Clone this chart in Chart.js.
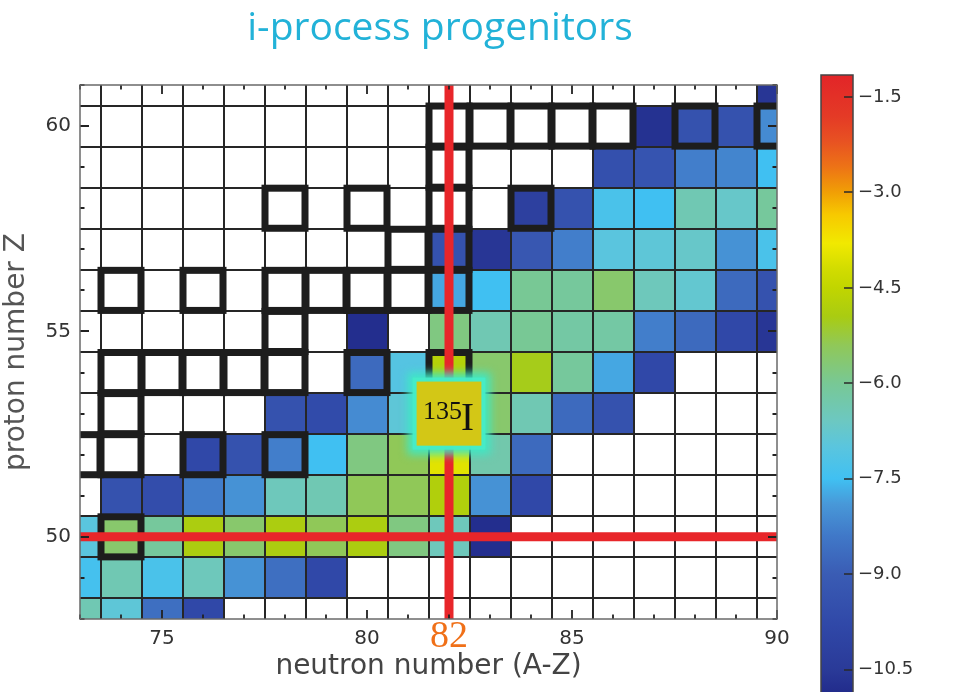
<!DOCTYPE html>
<html>
<head>
<meta charset="utf-8">
<title>i-process progenitors</title>
<script src="https://cdn.jsdelivr.net/npm/chart.js@4.4.1/dist/chart.umd.min.js"></script>
<style>
  html, body { margin: 0; padding: 0; background: #ffffff; }
  #figure { position: relative; width: 980px; height: 692px; overflow: hidden; }
  #nuclides { position: absolute; left: 0; top: 0; }
  #colorbar { position: absolute; left: 780px; top: 0; }
</style>
</head>
<body>
<div id="figure">
  <canvas id="nuclides" width="800" height="692"></canvas>
  <canvas id="colorbar" width="200" height="692"></canvas>
</div>
<script>
// ---- chart of nuclides: columns are neutron numbers, rows proton numbers ----
const neutronNumbers = [73, 74, 75, 76, 77, 78, 79, 80, 81, 82, 83, 84, 85, 86, 87, 88, 89, 90];
const protonNumbers  = [48, 49, 50, 51, 52, 53, 54, 55, 56, 57, 58, 59, 60, 61];

// log10 of the mass fraction X, one entry per neutron number above (null = not produced)
const logX_Z48 = [-6.4, -6.9, -8.6, -9.8, null, null, null, null, null, null, null, null, null, null, null, null, null, null];
const logX_Z49 = [-7.4, -6.4, -7.3, -6.5, -8.0, -8.6, -9.8, null, null, null, null, null, null, null, null, null, null, null];
const logX_Z50 = [-7.0, -5.6, -6.1, -4.9, -5.6, -4.9, -5.4, -4.9, -5.8, -6.5, -10.8, null, null, null, null, null, null, null];
const logX_Z51 = [null, -9.4, -9.6, -8.3, -8.0, -6.5, -6.4, -5.4, -5.4, -4.8, -8.0, -9.8, null, null, null, null, null, null];
const logX_Z52 = [null, null, null, -9.8, -9.4, -8.3, -7.5, -5.8, -5.4, -4.0, -6.3, -8.7, null, null, null, null, null, null];
const logX_Z53 = [null, null, null, null, null, -9.4, -9.7, -8.1, -6.9, -3.9, -5.6, -6.4, -8.7, -9.4, null, null, null, null];
const logX_Z54 = [null, null, null, null, null, null, null, -8.7, -7.1, -4.7, -5.6, -5.0, -6.1, -7.75, -9.8, null, null, null];
const logX_Z55 = [null, null, null, null, null, null, null, -10.8, null, -5.8, -6.4, -6.0, -6.2, -6.2, -8.3, -8.7, -9.8, -10.6];
const logX_Z56 = [null, null, null, null, null, null, null, null, null, -7.75, -7.5, -6.0, -6.1, -5.6, -6.5, -6.8, -8.7, -9.4];
const logX_Z57 = [null, null, null, null, null, null, null, null, null, -9.4, -10.6, -9.2, -8.3, -7.0, -6.9, -6.7, -8.0, -7.3];
const logX_Z58 = [null, null, null, null, null, null, null, null, null, null, null, -10.2, -9.4, -7.3, -7.5, -6.4, -6.7, -6.1];
const logX_Z59 = [null, null, null, null, null, null, null, null, null, null, null, null, null, -9.5, -9.3, -8.3, -8.2, -7.5];
const logX_Z60 = [null, null, null, null, null, null, null, null, null, null, null, null, null, null, -10.7, -9.4, -9.4, -8.1];
const logX_Z61 = [null, null, null, null, null, null, null, null, null, null, null, null, null, null, null, null, null, -10.6];
const logXRows = [logX_Z48, logX_Z49, logX_Z50, logX_Z51, logX_Z52, logX_Z53, logX_Z54,
                  logX_Z55, logX_Z56, logX_Z57, logX_Z58, logX_Z59, logX_Z60, logX_Z61];

// stable isotopes (outlined): neutron numbers and the matching proton numbers
const stableN = [74,  73, 74, 76, 78,  74,  74, 75, 76, 77, 78, 80, 82,  78,  74, 76, 78, 79, 80, 81, 82,  81, 82,  78, 80, 82, 84,  82,  82, 83, 84, 85, 86, 88, 90];
const stableZ = [50,  52, 52, 52, 52,  53,  54, 54, 54, 54, 54, 54, 54,  55,  56, 56, 56, 56, 56, 56, 56,  57, 57,  58, 58, 58, 58,  59,  60, 60, 60, 60, 60, 60, 60];

// axis ticks and the colour scale
const xTickValues = [75, 80, 85, 90];
const yTickValues = [50, 55, 60];
const colorbarTicks = [-1.5, -3.0, -4.5, -6.0, -7.5, -9.0, -10.5];

// magic numbers highlighted with red lines, and the labelled progenitor
const magicN = 82;
const magicZ = 50;
const highlightedIsotope = { mass: 135, symbol: 'I', n: 82, z: 53 };

// ---- colour map: log10(X) -> colour ----
const colormapStops = [
  [-1.15, '#e22528'], [-1.8, '#e43a26'], [-2.2, '#e85222'], [-2.6, '#ed7316'],
  [-3.0, '#f19f05'], [-3.35, '#f7c900'], [-3.8, '#f1e900'], [-4.2, '#d2dc00'],
  [-4.5, '#c1d500'], [-4.95, '#a9cc12'], [-5.4, '#90c858'], [-6.0, '#78c895'],
  [-6.6, '#6cc8c2'], [-7.0, '#5ac5de'], [-7.5, '#40c0f2'], [-7.9, '#4898d8'],
  [-8.4, '#4078c8'], [-9.0, '#3a5cb4'], [-9.8, '#3048a8'], [-10.5, '#2a3a98'],
  [-10.85, '#222c8c']
];
const colorbarMax = -1.155;
const colorbarMin = -10.85;

function hexToRgb(h) {
  const n = parseInt(h.slice(1), 16);
  return [(n >> 16) & 255, (n >> 8) & 255, n & 255];
}
function colourFor(v) {
  const s = colormapStops;
  if (v >= s[0][0]) return s[0][1];
  for (let i = 1; i < s.length; i++) {
    if (v >= s[i][0]) {
      const t = (s[i - 1][0] - v) / (s[i - 1][0] - s[i][0]);
      const a = hexToRgb(s[i - 1][1]), b = hexToRgb(s[i][1]);
      const c = a.map((ch, k) => Math.round(ch + (b[k] - ch) * t));
      return 'rgb(' + c.join(',') + ')';
    }
  }
  return s[s.length - 1][1];
}

// ---- datasets built from the arrays above ----
const cellPoints = [];
protonNumbers.forEach((z, i) => {
  logXRows[i].forEach((v, j) => {
    if (v !== null) cellPoints.push({ x: neutronNumbers[j], y: z, v: v });
  });
});
const stablePoints = stableN.map((n, i) => ({ x: n, y: stableZ[i] }));

Chart.defaults.font.family = '"DejaVu Sans", sans-serif';
Chart.defaults.color = '#333333';

function cellBox(xs, ys, n, z, halfW, halfH) {
  const x0 = xs.getPixelForValue(n - halfW), x1 = xs.getPixelForValue(n + halfW);
  const y0 = ys.getPixelForValue(z + halfH), y1 = ys.getPixelForValue(z - halfH);
  return { x: x0, y: y0, w: x1 - x0, h: y1 - y0 };
}

const nuclidePlugin = {
  id: 'nuclidePlugin',
  beforeDatasetsDraw(chart) {
    const { ctx, chartArea: a, scales: { x: xs, y: ys } } = chart;
    ctx.save();
    ctx.beginPath();
    ctx.rect(a.left, a.top, a.right - a.left, a.bottom - a.top);
    ctx.clip();

    // coloured cells
    chart.data.datasets[0].data.forEach(p => {
      const b = cellBox(xs, ys, p.x, p.y, 0.5, 0.5);
      ctx.fillStyle = colourFor(p.v);
      ctx.fillRect(b.x, b.y, b.w, b.h);
    });

    // cell borders on every half-integer
    ctx.strokeStyle = '#262626';
    ctx.lineWidth = 2;
    ctx.beginPath();
    for (let n = Math.floor(xs.min) + 0.5; n < xs.max; n += 1) {
      const px = Math.round(xs.getPixelForValue(n));
      ctx.moveTo(px, a.top); ctx.lineTo(px, a.bottom);
    }
    for (let z = Math.floor(ys.min) + 0.5; z < ys.max; z += 1) {
      const py = Math.round(ys.getPixelForValue(z));
      ctx.moveTo(a.left, py); ctx.lineTo(a.right, py);
    }
    ctx.stroke();

    // stable isotopes: thick black outline
    ctx.strokeStyle = '#1d1d1d';
    ctx.lineWidth = 7;
    chart.data.datasets[1].data.forEach(p => {
      const b = cellBox(xs, ys, p.x, p.y, 0.5, 0.5);
      ctx.strokeRect(b.x + 0.5, b.y + 0.5, b.w - 1, b.h - 1);
    });

    // magic numbers N = 82 and Z = 50
    ctx.strokeStyle = '#e8262a';
    ctx.lineWidth = 9;
    ctx.beginPath();
    const mx = xs.getPixelForValue(magicN);
    ctx.moveTo(mx, a.top); ctx.lineTo(mx, a.bottom);
    const my = ys.getPixelForValue(magicZ);
    ctx.moveTo(a.left, my); ctx.lineTo(a.right, my);
    ctx.stroke();
    ctx.restore();
  },
  afterDatasetsDraw(chart) {
    const { ctx, chartArea: a, scales: { x: xs, y: ys } } = chart;
    ctx.save();

    // inward ticks on all four sides
    ctx.strokeStyle = '#222222';
    ctx.lineWidth = 1.8;
    ctx.beginPath();
    for (let n = Math.ceil(xs.min); n <= xs.max; n++) {
      const px = Math.round(xs.getPixelForValue(n));
      const len = (n % 5 === 0) ? 9 : 4.5;
      ctx.moveTo(px, a.bottom); ctx.lineTo(px, a.bottom - len);
      ctx.moveTo(px, a.top); ctx.lineTo(px, a.top + len);
    }
    for (let z = Math.ceil(ys.min); z <= ys.max; z++) {
      const py = Math.round(ys.getPixelForValue(z));
      const len = (z % 5 === 0) ? 9 : 4.5;
      ctx.moveTo(a.left, py); ctx.lineTo(a.left + len, py);
      ctx.moveTo(a.right, py); ctx.lineTo(a.right - len, py);
    }
    ctx.stroke();

    // plot frame
    ctx.strokeStyle = '#6a6a6a';
    ctx.lineWidth = 1.5;
    ctx.strokeRect(a.left, a.top, a.right - a.left, a.bottom - a.top);

    // labelled progenitor: glowing yellow box
    const iso = highlightedIsotope;
    const b = cellBox(xs, ys, iso.n, iso.z, 0.79, 0.78);
    ctx.save();
    ctx.filter = 'blur(4px)';
    ctx.fillStyle = 'rgba(62, 232, 196, 0.95)';
    ctx.fillRect(b.x - 9, b.y - 9, b.w + 18, b.h + 18);
    ctx.restore();
    ctx.fillStyle = 'rgba(70, 236, 200, 0.9)';
    ctx.fillRect(b.x - 4, b.y - 4, b.w + 8, b.h + 8);
    ctx.fillStyle = '#d3c716';
    ctx.fillRect(b.x, b.y, b.w, b.h);
    const cx = b.x + b.w / 2, cy = b.y + b.h / 2;
    ctx.fillStyle = '#111111';
    ctx.textAlign = 'left';
    ctx.textBaseline = 'alphabetic';
    ctx.font = '26px "Liberation Serif", serif';
    ctx.fillText(String(iso.mass), cx - 26, cy + 5);
    ctx.font = '39px "Liberation Serif", serif';
    ctx.fillText(iso.symbol, cx + 12, cy + 16);

    // magic neutron number under the axis
    ctx.fillStyle = '#f07018';
    ctx.textAlign = 'center';
    ctx.font = '38px "Liberation Serif", serif';
    ctx.fillText(String(magicN), xs.getPixelForValue(magicN), a.bottom + 28);

    // figure title
    ctx.fillStyle = '#22b2d8';
    ctx.font = '39px "Open Sans", sans-serif';
    ctx.fillText('i-process progenitors', 440, 40);
    ctx.restore();
  }
};

new Chart(document.getElementById('nuclides'), {
  type: 'scatter',
  data: {
    datasets: [
      { label: 'log10(X)', data: cellPoints, pointRadius: 0, showLine: false },
      { label: 'stable', data: stablePoints, pointRadius: 0, showLine: false }
    ]
  },
  options: {
    responsive: false,
    animation: false,
    events: [],
    layout: { padding: { top: 85, right: 23, left: 0, bottom: 0 } },
    plugins: { legend: { display: false }, tooltip: { enabled: false }, title: { display: false } },
    scales: {
      x: {
        type: 'linear', min: 73, max: 90,
        afterBuildTicks: s => { s.ticks = xTickValues.map(v => ({ value: v })); },
        afterFit: s => { s.height = 73; s.paddingLeft = 0; s.paddingRight = 0; },
        grid: { display: false, drawTicks: false },
        border: { display: false },
        ticks: { autoSkip: false, maxRotation: 0, padding: 8, color: '#333', font: { size: 20 } },
        title: { display: true, text: 'neutron number (A-Z)', color: '#444', font: { size: 28 }, padding: { top: 0, bottom: 8 } }
      },
      y: {
        type: 'linear', min: 48, max: 61,
        afterBuildTicks: s => { s.ticks = yTickValues.map(v => ({ value: v })); },
        afterFit: s => { s.width = 80; s.paddingTop = 0; s.paddingBottom = 0; },
        grid: { display: false, drawTicks: false },
        border: { display: false },
        ticks: { padding: 9, color: '#333', font: { size: 20 } },
        title: { display: true, text: 'proton number Z', color: '#555', font: { size: 28 }, padding: { top: 0, bottom: 0 } }
      }
    }
  },
  plugins: [nuclidePlugin]
});

// ---- colour bar ----
const colorbarPlugin = {
  id: 'colorbarPlugin',
  afterDatasetsDraw(chart) {
    const { ctx, chartArea: a, scales: { y: ys } } = chart;
    ctx.save();
    ctx.strokeStyle = '#2a2a2a';
    ctx.lineWidth = 1.5;
    ctx.beginPath();
    colorbarTicks.forEach(v => {
      const py = Math.round(ys.getPixelForValue(v));
      ctx.moveTo(a.right - 9, py); ctx.lineTo(a.right, py);
    });
    ctx.stroke();
    ctx.strokeStyle = '#444444';
    ctx.strokeRect(a.left, a.top, a.right - a.left, a.bottom - a.top + 4);

    // rotated axis label log10(X) with subscript
    ctx.translate(956, 352);
    ctx.rotate(-Math.PI / 2);
    ctx.fillStyle = '#555555';
    ctx.textBaseline = 'alphabetic';
    ctx.textAlign = 'left';
    const big = '30px "DejaVu Sans", sans-serif', small = '18px "DejaVu Sans", sans-serif';
    ctx.font = big; const w1 = ctx.measureText('log').width;
    ctx.font = small; const w2 = ctx.measureText('10').width;
    ctx.font = big; const w3 = ctx.measureText('(X)').width;
    let px = -(w1 + w2 + w3) / 2;
    ctx.font = big; ctx.fillText('log', px, 10); px += w1;
    ctx.font = small; ctx.fillText('10', px, 16); px += w2;
    ctx.font = big; ctx.fillText('(X)', px, 10);
    ctx.restore();
  }
};

new Chart(document.getElementById('colorbar'), {
  type: 'bar',
  data: {
    labels: ['log10(X)'],
    datasets: [{
      data: [[colorbarMin, colorbarMax]],
      borderWidth: 0,
      barPercentage: 1,
      categoryPercentage: 1,
      backgroundColor: (c) => {
        const chart = c.chart;
        const ys = chart.scales.y;
        if (!chart.chartArea || !ys) return '#888';
        const top = ys.getPixelForValue(colorbarMax), bottom = ys.getPixelForValue(colorbarMin);
        const g = chart.ctx.createLinearGradient(0, top, 0, bottom);
        colormapStops.forEach(([v, col]) => {
          g.addColorStop(Math.min(1, Math.max(0, (colorbarMax - v) / (colorbarMax - colorbarMin))), col);
        });
        return g;
      }
    }]
  },
  options: {
    responsive: false,
    animation: false,
    events: [],
    layout: { padding: { top: 75, left: 41, right: 0, bottom: 0 } },
    plugins: { legend: { display: false }, tooltip: { enabled: false } },
    scales: {
      x: { display: false },
      y: {
        position: 'right', min: colorbarMin, max: colorbarMax,
        afterBuildTicks: s => { s.ticks = colorbarTicks.map(v => ({ value: v })); },
        afterFit: s => { s.width = 127; s.paddingTop = 0; s.paddingBottom = 0; },
        grid: { display: false, drawTicks: false },
        border: { display: false },
        ticks: {
          padding: 5, color: '#333', font: { size: 18 },
          callback: v => (v < 0 ? '\u2212' : '') + Math.abs(v).toFixed(1)
        }
      }
    }
  },
  plugins: [colorbarPlugin]
});
</script>
</body>
</html>
